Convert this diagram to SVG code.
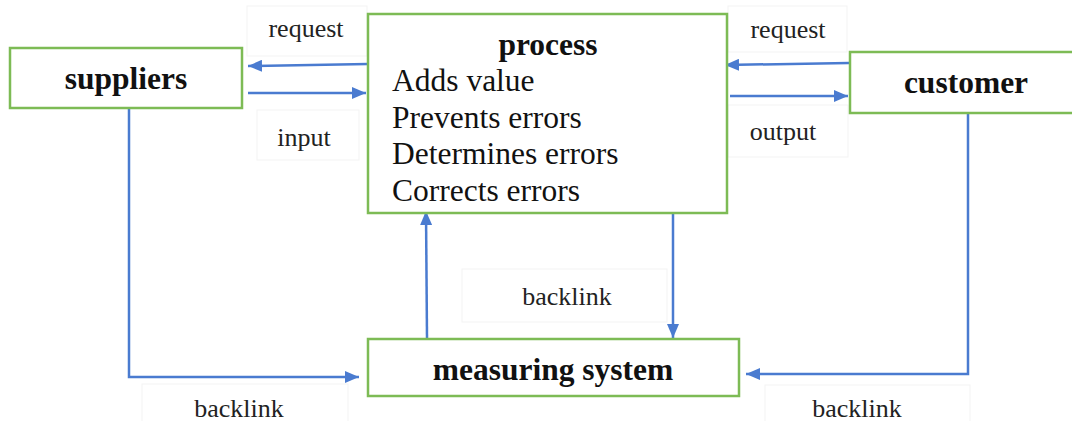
<svg xmlns="http://www.w3.org/2000/svg" width="1072" height="421" viewBox="0 0 1072 421">
<style>
.box{fill:#fff;stroke:#7dbb55;stroke-width:2.5}
.lbox{fill:none;stroke:#f3f3f3;stroke-width:1}
.conn{fill:none;stroke:#4a7bd0;stroke-width:2.5}
.t{font-family:"Liberation Serif","Times New Roman",serif;fill:#111}
.b{font-weight:bold;font-size:31.5px;text-anchor:middle}
.p{font-size:31.5px}
.l{font-size:26px;text-anchor:middle;fill:#222}
</style>
<defs>
<marker id="ah" viewBox="0 0 14 12" refX="14" refY="6" markerWidth="14" markerHeight="12" markerUnits="userSpaceOnUse" orient="auto">
<path d="M0,0 L14,6 L0,12 Z" fill="#4a7bd0"/>
</marker>
</defs>
<rect width="1072" height="421" fill="#fff"/>
<g id="label-boxes">
<rect class="lbox" x="247" y="6" width="120" height="50"/>
<rect class="lbox" x="257" y="110" width="102" height="50"/>
<rect class="lbox" x="728" y="6" width="119" height="46"/>
<rect class="lbox" x="728" y="105" width="120" height="52"/>
<rect class="lbox" x="462" y="269" width="205" height="53"/>
<rect class="lbox" x="142" y="384" width="206" height="40"/>
<rect class="lbox" x="765" y="385" width="205" height="40"/>
</g>
<g id="connectors">
<path class="conn" d="M368,64 L248,66" marker-end="url(#ah)"/>
<path class="conn" d="M248,93 L366,93" marker-end="url(#ah)"/>
<path class="conn" d="M849,63 L725,65" marker-end="url(#ah)"/>
<path class="conn" d="M730,96 L848,96" marker-end="url(#ah)"/>
<path class="conn" d="M129,108 L129,377 L359,377" marker-end="url(#ah)"/>
<path class="conn" d="M968,113 L968,374 L746,374" marker-end="url(#ah)"/>
<path class="conn" d="M427,338 L426,211" marker-end="url(#ah)"/>
<path class="conn" d="M673,214 L673,338" marker-end="url(#ah)"/>
</g>
<g id="suppliers">
<rect class="box" x="10" y="48" width="232" height="60"/>
<text class="t b" x="126" y="89">suppliers</text>
</g>
<g id="process">
<rect class="box" x="368" y="14" width="359" height="199"/>
<text class="t b" x="548" y="55">process</text>
<text class="t p" x="392" y="91">Adds value</text>
<text class="t p" x="392" y="128">Prevents errors</text>
<text class="t p" x="392" y="164">Determines errors</text>
<text class="t p" x="392" y="201">Corrects errors</text>
</g>
<g id="customer">
<rect class="box" x="850" y="52" width="232" height="61"/>
<text class="t b" x="966" y="93">customer</text>
</g>
<g id="measuring-system">
<rect class="box" x="368" y="339" width="371" height="57"/>
<text class="t b" x="553" y="380">measuring system</text>
</g>
<g id="labels">
<text class="t l" x="306" y="37">request</text>
<text class="t l" x="304" y="146">input</text>
<text class="t l" x="788" y="38">request</text>
<text class="t l" x="783" y="140">output</text>
<text class="t l" x="567" y="305">backlink</text>
<text class="t l" x="239" y="417">backlink</text>
<text class="t l" x="857" y="417">backlink</text>
</g>
</svg>
